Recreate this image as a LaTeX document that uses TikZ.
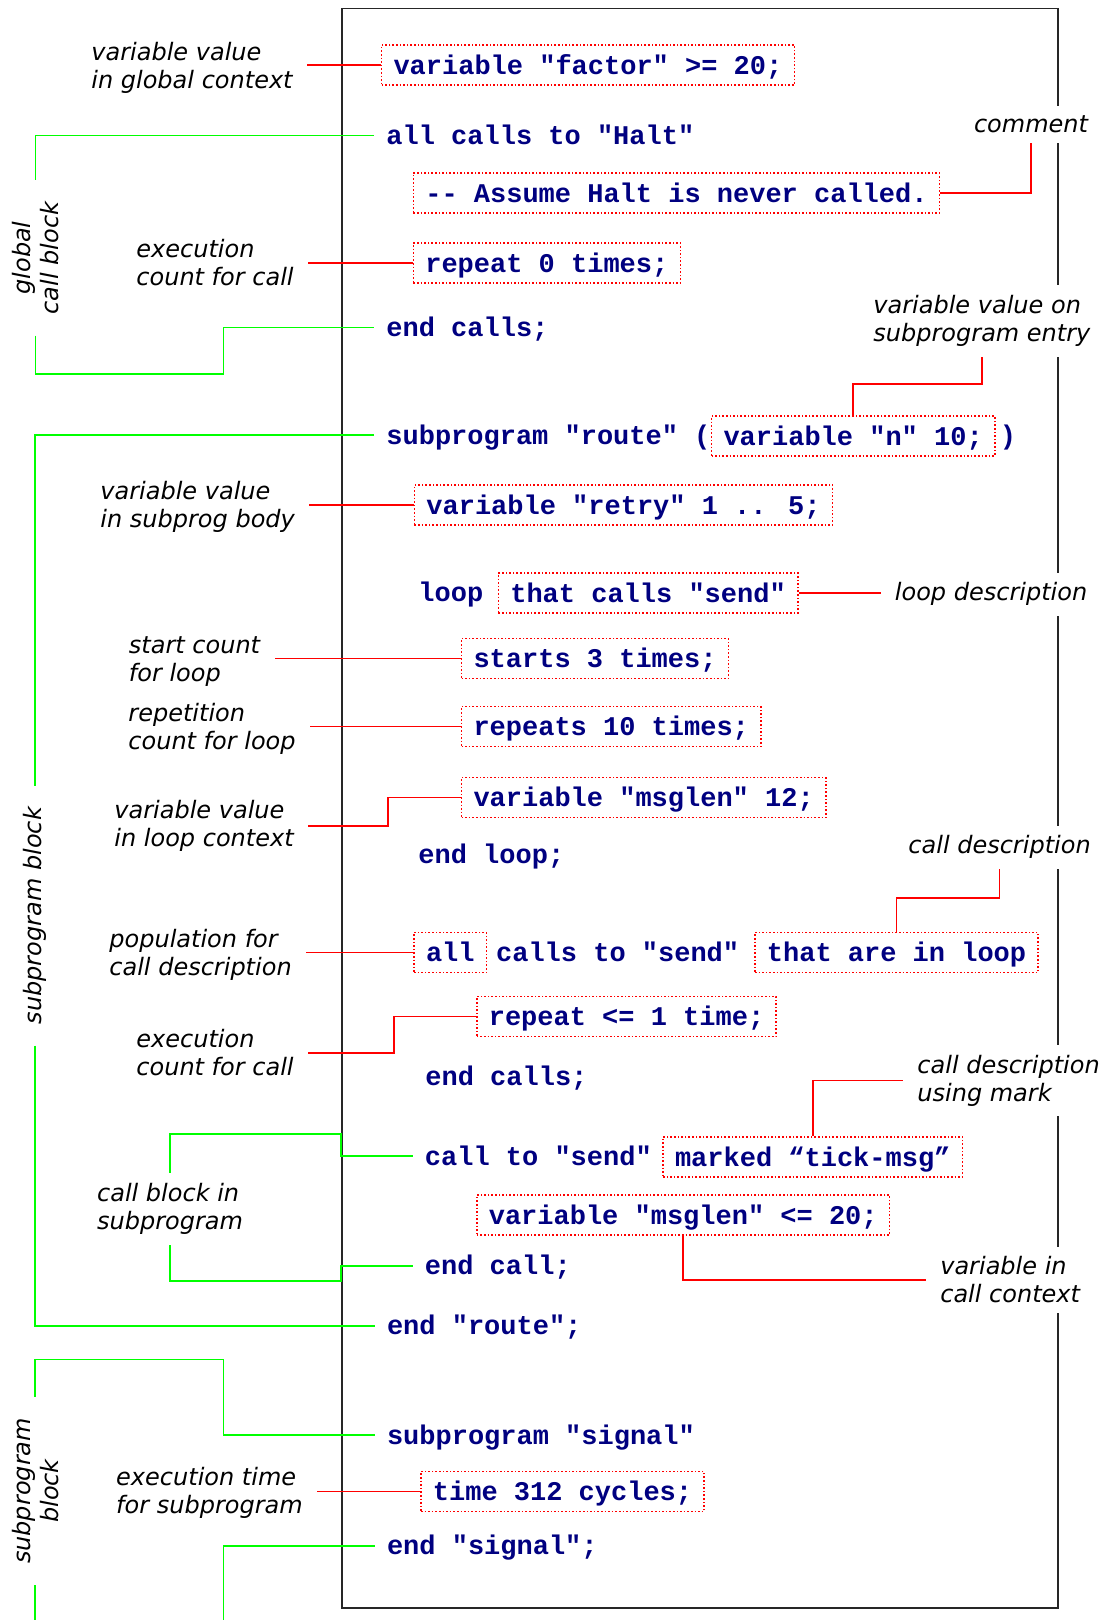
\documentclass[tikz,border=0pt]{standalone}
\usepackage{fontspec}
\newfontfamily\codefont{Liberation Mono}
\newfontfamily\notefont{DejaVu Sans}
\definecolor{codeblue}{RGB}{0,0,128}
\tikzset{
  code/.style={anchor=west, text=codeblue, font=\codefont\bfseries\fontsize{13.5}{16}\selectfont, inner xsep=6pt, inner ysep=2.5pt, text height=12.1pt, text depth=2.9pt},
  codebox/.style={code, draw=red, line width=0.8pt, densely dotted},
  note/.style={font=\notefont\itshape\fontsize{12}{14}\selectfont, align=left, fill=white, inner xsep=7pt, inner ysep=5pt},
  blocknote/.style={note, align=center, rotate=90, inner xsep=10.5pt, inner ysep=2pt},
  noteline/.style={draw=red, line width=0.9pt},
  blockline/.style={draw=green, line width=0.8pt},
  codeframe/.style={draw=black!85, line width=0.8pt}
}

\begin{document}
\begin{tikzpicture}[x=5pt,y=-5pt]
  \useasboundingbox (0,0) rectangle (110.7,162);
  \draw[codeframe] (34.2,0.85) rectangle (105.8,160.8);

  % code listing
  \node[codebox] (gfactor) at (38.07,6.5) {variable "factor" >= 20;};
  \node[code] (halt) at (37.4,13.57) {all calls to "Halt"};
  \node[codebox] (haltrem) at (41.25,19.3) {-{}- Assume Halt is never called.};
  \node[codebox] (zerorep) at (41.25,26.3) {repeat 0 times;};
  \node[code] (haltend) at (37.4,32.77) {end calls;};
  \node[code] (route) at (37.4,43.5) {subprogram "route" (};
  \node[codebox] (entryvar) at (71.07,43.6) {variable "n" 10;};
  \node[code] (routeclose) at (98.75,43.5) {)};
  \node[codebox] (retry) at (41.36,50.5) {variable "retry" 1 .. 5;};
  \node[code] (loop) at (40.6,59.24) {loop};
  \node[codebox] (loopdesc) at (49.75,59.3) {that calls "send"};
  \node[codebox] (starts) at (46.07,65.85) {starts 3 times;};
  \node[codebox] (repeats) at (46.07,72.65) {repeats 10 times;};
  \node[codebox] (loopvar) at (46.07,79.75) {variable "msglen" 12;};
  \node[code] (loopend) at (40.6,85.4) {end loop;};
  \node[codebox] (population) at (41.32,95.25) {all};
  \node[code] (sendcalls) at (48.37,95.22) {calls to "send"};
  \node[codebox] (calldesc) at (75.41,95.25) {that are in loop};
  \node[codebox] (atmost) at (47.6,101.65) {repeat <= 1 time;};
  \node[code] (sendend) at (41.3,107.67) {end calls;};
  \node[code] (callsend) at (41.25,115.6) {call to "send"};
  \node[codebox] (mark) at (66.22,115.68) {marked “tick-msg”};
  \node[codebox] (callvar) at (47.6,121.5) {variable "msglen" <= 20;};
  \node[code] (callend) at (41.25,126.57) {end call;};
  \node[code] (routeend) at (37.46,132.57) {end "route";};
  \node[code] (signal) at (37.46,143.5) {subprogram "signal"};
  \node[codebox] (sigtime) at (42.01,149.15) {time 312 cycles;};
  \node[code] (signalend) at (37.46,154.57) {end "signal";};

  % notes left
  \node[note, anchor=west] (gvalnote) at (7.7,6.76) {variable value\\in global context};
  \node[note, anchor=west] (gcountnote) at (12.2,26.29) {execution\\count for call};
  \node[note, anchor=west] (bodynote) at (8.6,50.72) {variable value\\in subprog body};
  \node[note, anchor=west] (startnote) at (11.45,66.12) {start count\\for loop};
  \node[note, anchor=west] (repnote) at (11.4,72.92) {repetition\\count for loop};
  \node[note, anchor=west] (loopvarnote) at (10.0,82.63) {variable value\\in loop context};
  \node[note, anchor=west] (popnote) at (9.5,95.53) {population for\\call description};
  \node[note, anchor=west] (ccountnote) at (12.2,105.27) {execution\\count for call};
  \node[note, anchor=west] (cbnote) at (8.27,120.9) {call block in\\subprogram};
  \node[note, anchor=west] (timenote) at (10.18,149.32) {execution time\\for subprogram};

  % notes right
  \node[note] (remnote) at (103.1,12.44) {comment};
  \node[note, anchor=west] (entrynote) at (85.9,32.1) {variable value on\\subprogram entry};
  \node[note, anchor=west] (loopnote) at (88.05,59.43) {loop description};
  \node[note, anchor=west] (descnote) at (89.4,84.73) {call description};
  \node[note, anchor=west] (marknote) at (90.3,108.05) {call description\\using mark};
  \node[note, anchor=west] (callvarnote) at (92.59,128.0) {variable in\\call context};

  % block labels
  \node[blocknote] (gcbnote) at (3.55,25.8) {global\\call block};
  \node[blocknote] (spnote) at (3.5,91.57) {subprogram block};
  \node[blocknote] (signote) at (3.52,149.1) {subprogram\\block};

  % red pointers
  \draw[noteline] (gfactor.west) -- (gfactor.west -| gvalnote.east);
  \draw[noteline] (zerorep.west) -- (zerorep.west -| gcountnote.east);
  \draw[noteline] (haltrem.east) -| (remnote.south);
  \draw[noteline] (entryvar.north) -- ++(0,-3.1) -| (entrynote.south);
  \draw[noteline] (retry.west) -- (retry.west -| bodynote.east);
  \draw[noteline] (loopdesc.east) -- (loopdesc.east -| loopnote.west);
  \draw[noteline] (starts.west) -- (starts.west -| startnote.east);
  \draw[noteline] (repeats.west) -- (repeats.west -| repnote.east);
  \draw[noteline] (loopvarnote.east) -- ++(8,0) |- (loopvar.west);
  \draw[noteline] (calldesc.north) -- ++(0,-3.34) -| (descnote.south);
  \draw[noteline] (population.west) -- (population.west -| popnote.east);
  \draw[noteline] (ccountnote.east) -- ++(8.6,0) |- (atmost.west);
  \draw[noteline] (mark.north) |- (marknote.west);
  \draw[noteline] (callvar.south) |- (callvarnote.west);
  \draw[noteline] (sigtime.west) -- (sigtime.west -| timenote.east);

  % green brackets
  \coordinate (gcbknee) at (22.36,37.43);
  \draw[blockline] (halt.west) -| (gcbnote.east);
  \draw[blockline] (gcbnote.west) |- (gcbknee) |- (haltend.west);
  \draw[blockline] (route.west) -| (spnote.east);
  \draw[blockline] (spnote.west) |- (routeend.west);
  \coordinate (cbtop) at (34.1,113.4);
  \coordinate (cbbot) at (34.1,128.07);
  \draw[blockline] (callsend.west) -| (cbtop) -| (cbnote.north);
  \draw[blockline] (cbnote.south) |- (cbbot) |- (callend.west);
  \coordinate (sigknee) at (22.36,135.93);
  \coordinate (sigbot) at (3.52,162);
  \coordinate (sigtail) at (22.36,162);
  \draw[blockline] (signal.west) -| (sigknee) -| (signote.east);
  \draw[blockline] (signote.west) -- (signote.west |- sigbot);
  \draw[blockline] (signalend.west) -| (sigtail);
\end{tikzpicture}
\end{document}
